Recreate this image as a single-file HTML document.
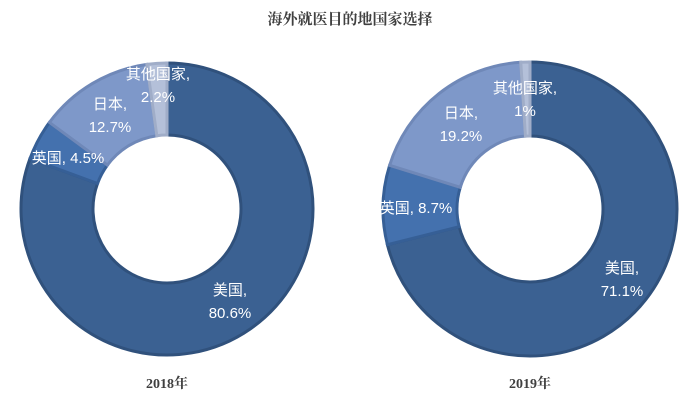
<!DOCTYPE html>
<html><head><meta charset="utf-8"><style>
body{margin:0;background:#fff;}
svg text{font-family:"Liberation Sans","Noto Sans CJK SC",sans-serif;}
</style></head><body>
<svg id="chart" width="700" height="401" viewBox="0 0 700 401" xmlns="http://www.w3.org/2000/svg">
<text x="350" y="24" text-anchor="middle" font-size="15" font-weight="bold" fill="#404040" style="font-family:'Liberation Serif','Noto Serif CJK SC',serif">海外就医目的地国家选择</text>
<g id="d1"></g><g id="d2"></g>
<text x="167" y="388" text-anchor="middle" font-size="14" font-weight="bold" fill="#404040" style="font-family:'Liberation Serif','Noto Serif CJK SC',serif">2018年</text>
<text x="530" y="388" text-anchor="middle" font-size="14" font-weight="bold" fill="#404040" style="font-family:'Liberation Serif','Noto Serif CJK SC',serif">2019年</text>
</svg>
<script>
const categories=["美国","英国","日本","其他国家"];
const values2018=[80.6,4.5,12.7,2.2];
const values2019=[71.1,8.7,19.2,1];
const labels2018=["80.6%","4.5%","12.7%","2.2%"];
const labels2019=["71.1%","8.7%","19.2%","1%"];
const colors=["#3b6192","#4471ae","#7e98c9","#b4c0d9"];
const strokes=["#30517c","#365f96","#6f88b8","#a0adc8"];
const NS="http://www.w3.org/2000/svg";
function arc(cx,cy,R,r,a0,a1){
 const p=(rad,a)=>[cx+rad*Math.sin(a),cy-rad*Math.cos(a)];
 const lg=(a1-a0)>Math.PI?1:0;
 const [x0,y0]=p(R,a0),[x1,y1]=p(R,a1),[x2,y2]=p(r,a1),[x3,y3]=p(r,a0);
 return `M${x0},${y0}A${R},${R} 0 ${lg} 1 ${x1},${y1}L${x2},${y2}A${r},${r} 0 ${lg} 0 ${x3},${y3}Z`;
}
function donut(g,cx,cy,R,r,vals,labs,labelPos,year){
 const tot=vals.reduce((a,b)=>a+b,0);let a=0;
 vals.forEach((v,i)=>{
  const a1=a+v/tot*2*Math.PI;
  const path=document.createElementNS(NS,"path");
  path.setAttribute("d",arc(cx,cy,R,r,a,a1));
  path.setAttribute("fill",colors[i]);path.setAttribute("stroke",strokes[i]);path.setAttribute("stroke-width","3");
  
  
  g.appendChild(path);a=a1;
 });
 labelPos.forEach((lp,i)=>{
  const t=document.createElementNS(NS,"text");
  t.setAttribute("x",lp[0]);t.setAttribute("y",lp[1]);t.setAttribute("text-anchor","middle");
  t.setAttribute("font-size","15");t.setAttribute("fill","#fff");
  
  
  if(lp[2]){t.textContent=categories[i]+", "+labs[i];}
  else{
   const s1=document.createElementNS(NS,"tspan");s1.setAttribute("x",lp[0]);s1.textContent=categories[i]+",";
   const s2=document.createElementNS(NS,"tspan");s2.setAttribute("x",lp[0]);s2.setAttribute("dy","23");s2.textContent=labs[i];
   t.appendChild(s1);t.appendChild(s2);
  }
  g.appendChild(t);
 });
}
donut(document.getElementById("d1"),167,209,146,74,values2018,labels2018,[[230,295],[68,163,1],[110,109],[158,79]],"2018");
donut(document.getElementById("d2"),530,209,147,73,values2019,labels2019,[[622,273],[416,213,1],[461,118],[525,93]],"2019");
</script>
</body></html>
